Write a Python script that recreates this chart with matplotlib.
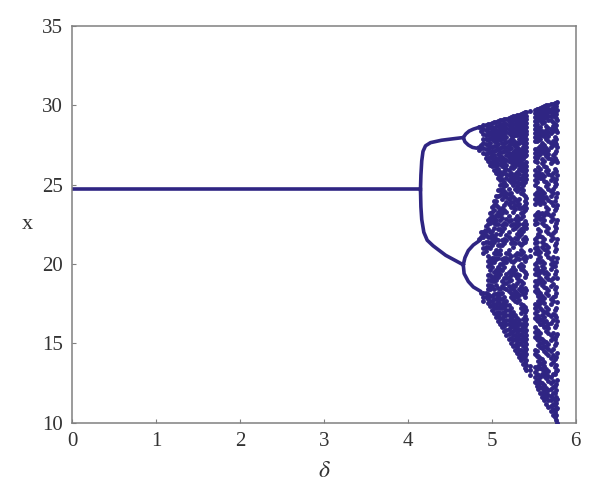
import matplotlib
matplotlib.use("Agg")
import matplotlib.pyplot as plt

plt.rcParams['font.family'] = ['Liberation Serif', 'DejaVu Serif']

# single valued part and the period doubling branches
stableDelta = [0, 4.15]
stableX = [24.72, 24.72]
branches = [
    ([4.15, 4.155, 4.165, 4.18, 4.21, 4.27, 4.4, 4.55, 4.66], [24.7, 25.6, 26.5, 27.1, 27.45, 27.65, 27.8, 27.9, 27.97]),
    ([4.15, 4.155, 4.165, 4.19, 4.23, 4.3, 4.45, 4.66], [24.7, 23.6, 22.8, 22.0, 21.5, 21.15, 20.55, 19.95]),
    ([4.66, 4.69, 4.73, 4.78, 4.85], [27.97, 28.2, 28.38, 28.5, 28.62]),
    ([4.66, 4.68, 4.72, 4.77, 4.82, 4.86], [27.97, 27.7, 27.5, 27.35, 27.3, 27.4]),
    ([4.66, 4.68, 4.72, 4.78, 4.86, 4.92], [19.95, 20.4, 20.85, 21.2, 21.5, 22.1]),
    ([4.66, 4.67, 4.72, 4.78, 4.86], [19.95, 19.4, 18.9, 18.55, 18.3]),
]

# chaotic part, one list of x values per delta column
chaosDelta = [4.85, 4.90, 4.95, 5.00, 5.05, 5.10, 5.15, 5.20, 5.25, 5.30, 5.35, 5.40, 5.45, 5.52, 5.55, 5.60, 5.65, 5.70, 5.75, 5.78]
chaosX = [
    [28.65, 27.2, 21.6],
    [28.75, 28.5, 28.2, 27.9, 27.6, 27.3, 27.0, 22.0, 21.7, 21.3, 21.0, 20.7, 18.2, 17.9, 17.7],
    [28.85, 28.6, 28.35, 28.1, 27.8, 27.5, 27.25, 27.0, 26.7, 26.5, 22.8, 22.5, 22.2, 21.7, 21.4, 21.1, 20.5, 20.2, 19.9, 19.3, 19.0, 18.7, 18.4, 18.1, 17.8, 17.55],
    [28.9, 28.65, 28.4, 28.15, 27.9, 27.4, 27.15, 26.9, 26.65, 26.4, 26.2, 23.6, 23.3, 23.0, 22.7, 22.1, 21.8, 21.5, 21.2, 20.4, 20.1, 19.8, 19.2, 18.9, 18.6, 18.0, 17.7, 17.4, 17.1],
    [28.97, 28.7, 28.45, 28.2, 27.95, 27.7, 27.45, 27.2, 26.7, 26.45, 26.2, 25.95, 25.75, 24.3, 24.0, 23.7, 23.1, 22.8, 22.5, 21.9, 21.6, 20.9, 20.6, 20.3, 19.6, 19.3, 19.0, 18.7, 18.1, 17.8, 17.5, 17.2, 16.9, 16.66],
    [29.05, 28.8, 28.55, 28.3, 28.05, 27.8, 27.3, 27.05, 26.8, 26.55, 26.3, 25.8, 25.55, 25.3, 24.95, 24.65, 24.35, 23.4, 23.1, 22.8, 22.2, 21.9, 21.2, 20.9, 20.6, 20.0, 19.7, 19.4, 18.4, 18.1, 17.8, 17.5, 17.2, 16.9, 16.6, 16.2],
    [29.13, 28.9, 28.65, 28.4, 28.15, 27.9, 27.65, 27.4, 27.15, 26.6, 26.35, 26.1, 25.85, 25.2, 24.9, 24.6, 24.3, 23.7, 23.4, 22.6, 22.3, 21.6, 21.3, 20.4, 20.1, 19.8, 19.1, 18.8, 18.5, 17.9, 17.6, 17.3, 17.0, 16.7, 16.4, 16.1, 15.75],
    [29.22, 29.0, 28.75, 28.5, 28.25, 27.75, 27.5, 27.25, 27.0, 26.75, 26.5, 25.9, 25.6, 25.3, 24.7, 24.4, 24.1, 23.8, 23.0, 22.7, 22.0, 21.7, 20.9, 20.6, 20.3, 19.5, 19.2, 18.9, 18.6, 18.3, 17.4, 17.1, 16.8, 16.5, 16.2, 15.9, 15.6, 15.3],
    [29.3, 29.05, 28.8, 28.55, 28.3, 28.05, 27.8, 27.55, 27.05, 26.8, 26.55, 26.3, 26.05, 25.6, 25.3, 25.0, 24.2, 23.9, 23.6, 23.3, 22.5, 22.2, 21.4, 21.1, 20.1, 19.8, 19.5, 18.7, 18.4, 18.1, 17.8, 17.0, 16.7, 16.4, 16.1, 15.8, 15.5, 15.2, 14.85],
    [29.38, 29.15, 28.9, 28.65, 28.4, 28.15, 27.6, 27.35, 27.1, 26.85, 26.6, 26.35, 25.8, 25.5, 25.2, 24.9, 24.6, 24.0, 23.7, 23.0, 22.7, 22.4, 21.9, 21.6, 20.7, 20.4, 19.4, 19.1, 18.8, 18.2, 17.9, 17.6, 16.6, 16.3, 16.0, 15.7, 15.4, 15.1, 14.75, 14.4],
    [29.47, 29.25, 29.0, 28.75, 28.5, 28.25, 28.0, 27.75, 27.2, 26.95, 26.7, 26.45, 26.2, 25.95, 25.4, 25.1, 24.8, 24.5, 23.5, 23.2, 22.9, 22.2, 21.9, 21.2, 20.9, 20.6, 20.0, 19.7, 18.9, 18.6, 18.3, 17.5, 17.2, 16.9, 16.2, 15.9, 15.6, 15.3, 15.0, 14.6, 14.25, 13.93],
    [29.55, 29.3, 29.05, 28.8, 28.55, 28.05, 27.8, 27.55, 27.3, 27.05, 26.8, 26.3, 26.05, 25.8, 25.5, 25.2, 24.3, 24.0, 23.7, 23.4, 22.7, 22.4, 21.7, 21.4, 20.5, 20.2, 19.5, 19.2, 18.5, 18.2, 17.9, 17.3, 17.0, 16.7, 16.4, 16.1, 15.7, 15.4, 15.1, 14.8, 14.5, 14.2, 13.8, 13.47],
    [29.64, 20.9, 20.5, 13.0, 13.3, 13.6],
    [29.72, 29.5, 29.25, 29.0, 28.75, 28.5, 28.25, 28.0, 27.75, 27.25, 27.0, 26.75, 26.5, 25.9, 25.6, 25.3, 25.0, 24.4, 24.1, 23.8, 23.1, 22.8, 22.5, 21.6, 21.3, 21.0, 20.7, 20.0, 19.7, 19.4, 18.9, 18.6, 18.3, 17.5, 17.2, 16.9, 16.6, 16.0, 15.7, 15.4, 14.6, 14.3, 13.5, 13.2, 12.85, 12.55],
    [29.8, 29.55, 29.3, 29.05, 28.55, 28.3, 28.05, 27.8, 27.3, 27.05, 26.8, 26.1, 25.8, 25.5, 24.8, 24.5, 24.2, 23.9, 23.3, 23.0, 22.2, 21.9, 20.9, 20.6, 20.3, 19.6, 19.3, 19.0, 18.3, 18.0, 17.7, 17.4, 16.7, 16.4, 15.8, 15.5, 15.2, 14.9, 14.2, 13.9, 13.6, 13.0, 12.7, 12.4, 12.1],
    [29.9, 29.65, 29.4, 29.15, 28.9, 28.4, 28.15, 27.6, 27.35, 27.1, 26.6, 26.35, 25.7, 25.4, 24.6, 24.3, 24.0, 23.2, 22.9, 22.6, 21.7, 21.4, 21.1, 20.2, 19.9, 19.6, 19.0, 18.7, 18.0, 17.7, 17.1, 16.8, 16.5, 16.2, 15.3, 15.0, 14.7, 14.0, 13.7, 13.4, 13.1, 12.5, 12.2, 11.9, 11.64],
    [30.0, 29.75, 29.5, 29.25, 28.7, 28.45, 28.2, 27.9, 27.3, 27.05, 26.8, 26.1, 25.85, 25.2, 24.9, 24.2, 23.6, 23.3, 22.4, 22.1, 21.2, 20.9, 20.6, 19.5, 19.2, 18.5, 18.2, 17.3, 17.0, 16.4, 16.1, 15.8, 15.1, 14.8, 14.4, 13.4, 13.1, 12.8, 12.2, 11.9, 11.55, 11.2],
    [30.07, 29.8, 29.55, 29.3, 29.05, 28.5, 28.25, 27.6, 27.35, 26.6, 26.35, 25.6, 25.3, 24.6, 24.3, 23.9, 23.0, 22.7, 21.8, 21.5, 20.3, 20.0, 19.7, 19.0, 18.6, 17.8, 17.5, 16.7, 16.3, 15.5, 15.2, 14.5, 14.1, 13.7, 12.9, 12.5, 12.1, 11.7, 11.4, 11.05, 10.73],
    [30.15, 29.9, 29.65, 29.4, 28.85, 28.6, 28.0, 27.7, 27.0, 26.7, 26.0, 25.2, 24.9, 24.0, 23.4, 22.4, 22.1, 21.2, 20.8, 19.9, 19.4, 18.4, 18.0, 17.1, 16.8, 16.0, 15.3, 14.9, 14.0, 13.5, 13.1, 12.3, 11.9, 11.4, 11.1, 10.7, 10.35],
    [30.2, 29.7, 29.1, 28.3, 27.4, 26.4, 25.6, 24.5, 23.7, 22.8, 21.6, 20.4, 19.1, 17.6, 16.4, 15.6, 14.4, 13.3, 12.7, 11.5, 10.9, 10.0],
]

# columns in between, filling the dense bands
fillDelta = [4.875, 4.925, 4.975, 5.025, 5.075, 5.125, 5.175, 5.225, 5.275, 5.325, 5.375, 5.41, 5.535, 5.575, 5.625, 5.675, 5.725, 5.765]
fillX = [
    [28.65, 28.4, 27.3, 27.5, 22.0, 21.7, 18.2],
    [28.75, 28.45, 28.15, 27.85, 27.55, 27.25, 26.95, 26.7, 22.4, 22.1, 21.8, 21.4, 21.1, 20.8, 18.2, 17.9],
    [28.85, 28.55, 28.25, 27.95, 27.65, 27.35, 27.05, 26.75, 26.45, 26.25, 23.2, 22.9, 22.6, 22.0, 21.7, 21.3, 21.0, 20.3, 20.0, 19.6, 19.3, 19.0, 18.7, 18.4, 18.0, 17.65, 17.35],
    [28.92, 28.6, 28.3, 28.0, 27.75, 27.45, 27.15, 26.85, 26.55, 26.25, 25.95, 24.0, 23.7, 23.4, 22.9, 22.6, 22.3, 21.7, 21.4, 20.7, 20.4, 20.1, 19.5, 19.2, 18.9, 18.4, 18.1, 17.8, 17.5, 17.2, 16.9],
    [29.0, 28.7, 28.4, 28.1, 27.85, 27.55, 27.25, 26.95, 26.6, 26.3, 26.0, 25.7, 25.45, 24.65, 24.3, 23.6, 23.3, 23.0, 22.5, 22.2, 21.5, 21.2, 20.7, 20.4, 19.8, 19.5, 19.2, 18.5, 18.2, 17.9, 17.6, 17.3, 17.0, 16.7, 16.4],
    [29.08, 28.78, 28.5, 28.2, 27.95, 27.65, 27.35, 27.05, 26.75, 26.45, 26.15, 25.65, 25.35, 25.05, 24.75, 24.45, 24.1, 23.55, 23.2, 22.9, 22.45, 22.1, 21.5, 21.2, 20.3, 20.0, 19.6, 18.9, 18.6, 18.2, 17.8, 17.5, 17.2, 16.9, 16.6, 16.3, 16.0],
    [29.17, 28.85, 28.6, 28.3, 28.0, 27.7, 27.4, 27.1, 26.85, 26.55, 26.25, 26.0, 25.7, 25.4, 25.0, 24.5, 24.2, 23.9, 23.25, 22.85, 22.5, 21.85, 21.5, 20.7, 20.4, 20.1, 19.4, 19.1, 18.8, 18.45, 17.7, 17.4, 17.1, 16.8, 16.5, 16.2, 15.85, 15.5],
    [29.26, 28.95, 28.65, 28.4, 28.1, 27.85, 27.6, 27.3, 26.95, 26.65, 26.4, 26.1, 25.75, 25.45, 25.15, 24.5, 24.2, 23.9, 23.6, 22.75, 22.45, 21.6, 21.3, 20.5, 20.2, 19.6, 19.3, 19.0, 18.5, 18.2, 17.9, 17.2, 16.9, 16.6, 16.3, 16.0, 15.7, 15.35, 15.05],
    [29.34, 29.1, 28.85, 28.6, 28.35, 28.1, 27.7, 27.45, 27.2, 26.95, 26.7, 26.45, 26.15, 25.7, 25.45, 25.15, 24.75, 24.1, 23.75, 23.45, 22.85, 22.55, 22.25, 21.65, 21.3, 20.55, 20.25, 19.65, 19.3, 18.6, 18.3, 18.0, 17.7, 16.8, 16.5, 16.2, 15.9, 15.55, 15.25, 14.9, 14.6],
    [29.42, 29.2, 28.95, 28.7, 28.45, 28.2, 27.9, 27.65, 27.25, 27.0, 26.75, 26.5, 26.25, 26.0, 25.65, 25.35, 25.05, 24.7, 24.1, 23.8, 23.55, 22.85, 22.55, 22.05, 21.75, 21.3, 20.6, 20.3, 19.9, 19.3, 19.0, 18.4, 18.05, 17.75, 16.5, 16.2, 15.85, 15.55, 15.25, 14.95, 14.6, 14.3, 14.15],
    [29.5, 29.28, 29.02, 28.8, 28.6, 28.35, 28.1, 27.9, 27.65, 27.4, 27.1, 26.85, 26.6, 26.3, 26.1, 25.85, 25.6, 25.3, 25.0, 24.65, 24.4, 23.6, 23.3, 23.05, 22.55, 22.3, 22.05, 21.55, 21.3, 20.75, 20.4, 19.85, 19.6, 18.8, 18.45, 18.1, 17.4, 17.1, 16.55, 16.25, 16.0, 15.75, 15.45, 15.2, 14.85, 14.55, 14.3, 14.05, 13.7],
    [29.58, 29.35, 29.15, 28.9, 28.65, 28.4, 28.2, 27.9, 27.65, 27.4, 27.15, 26.9, 26.45, 26.2, 25.9, 25.6, 25.35, 24.15, 23.85, 23.55, 22.55, 22.25, 21.55, 20.35, 19.35, 18.35, 17.1, 16.55, 16.25, 15.85, 15.55, 15.25, 14.95, 14.65, 14.35, 13.95, 13.65, 13.35],
    [29.77, 29.55, 29.3, 29.05, 28.8, 28.55, 28.3, 28.0, 27.75, 27.15, 26.9, 26.65, 26.4, 25.75, 25.45, 25.15, 24.55, 24.3, 24.0, 23.2, 22.9, 22.6, 21.7, 21.4, 21.1, 20.8, 20.1, 19.8, 19.5, 18.75, 18.45, 18.15, 17.35, 17.05, 16.75, 16.45, 15.85, 15.55, 15.25, 14.5, 14.2, 13.4, 13.05, 12.7, 12.5, 12.3],
    [29.85, 29.6, 29.35, 29.1, 28.65, 28.4, 28.15, 27.9, 27.45, 27.2, 26.95, 26.0, 25.7, 25.4, 24.7, 24.4, 24.1, 23.8, 23.15, 22.85, 22.1, 21.75, 20.75, 20.45, 20.15, 19.5, 19.15, 18.85, 18.15, 17.85, 17.55, 17.25, 16.55, 16.25, 15.65, 15.35, 15.05, 14.75, 14.05, 13.75, 13.45, 12.85, 12.55, 12.25, 11.9],
    [29.94, 29.7, 29.45, 29.2, 28.95, 28.3, 28.05, 27.5, 27.25, 27.0, 26.5, 26.2, 25.55, 25.25, 24.45, 24.15, 23.85, 23.1, 22.75, 22.45, 21.55, 21.25, 20.95, 20.05, 19.75, 19.45, 18.85, 18.55, 17.85, 17.55, 16.95, 16.65, 16.35, 16.05, 15.15, 14.85, 14.55, 13.85, 13.55, 13.25, 12.95, 12.35, 12.05, 11.75, 11.4],
    [30.03, 29.8, 29.55, 29.3, 29.05, 28.6, 28.35, 28.05, 27.75, 27.2, 26.95, 26.7, 25.95, 25.7, 25.05, 24.75, 24.05, 23.45, 23.15, 22.25, 21.95, 21.05, 20.75, 20.45, 19.35, 19.05, 18.35, 18.05, 17.15, 16.85, 16.25, 15.95, 15.65, 14.95, 14.65, 14.25, 13.25, 12.95, 12.65, 12.05, 11.75, 11.4, 11.0],
    [30.1, 29.85, 29.6, 29.35, 28.95, 28.7, 28.4, 27.75, 27.5, 26.85, 26.5, 25.75, 25.45, 24.75, 24.45, 23.75, 23.15, 22.85, 21.95, 21.65, 20.45, 20.15, 19.85, 19.15, 18.75, 17.95, 17.65, 16.85, 16.5, 15.65, 15.35, 14.65, 14.25, 13.85, 13.05, 12.65, 12.25, 11.85, 11.55, 11.2, 10.85, 10.5],
    [30.17, 29.95, 29.7, 29.45, 29.2, 28.75, 28.45, 27.85, 27.55, 27.15, 26.55, 25.85, 25.35, 25.05, 24.2, 23.55, 22.6, 22.25, 21.35, 20.95, 20.1, 19.55, 18.55, 18.15, 17.25, 16.65, 16.15, 15.45, 15.05, 14.15, 13.65, 13.25, 12.45, 12.05, 11.6, 11.25, 10.85, 10.5, 10.15],
]

xTicks = [0, 1, 2, 3, 4, 5, 6]
yTicks = [10, 15, 20, 25, 30, 35]

dotColor = '#2f2583'
frameColor = '#808080'
textColor = '#333333'

fig = plt.figure(figsize=(6, 4.99), dpi=100)
ax = fig.add_axes([72.3 / 600, 1 - 422.7 / 499, (575.7 - 72.3) / 600, (422.7 - 26) / 499])

ax.plot(stableDelta, stableX, color=dotColor, lw=2.6, solid_capstyle='butt')
for bd, bx in branches:
    ax.plot(bd, bx, color=dotColor, lw=2.6)

for d, xs in zip(chaosDelta + fillDelta, chaosX + fillX):
    ax.scatter([d] * len(xs), xs, s=12.5, color=dotColor, linewidths=0, zorder=3)

ax.set_xlim(0, 6)
ax.set_ylim(10, 35)
ax.set_xticks(xTicks)
ax.set_yticks(yTicks)
ax.tick_params(direction='in', length=3.2, width=0.8, color=frameColor, labelcolor=textColor, labelsize=15, pad=7)
for s in ax.spines.values():
    s.set_color(frameColor)
    s.set_linewidth(1.1)

ax.set_xlabel(r'$\delta$', fontsize=17, color=textColor, labelpad=7, math_fontfamily='stix')
ax.set_ylabel('x', fontsize=16, color=textColor, rotation=0, labelpad=10, va='center')

fig.savefig('out.png', dpi=100)
